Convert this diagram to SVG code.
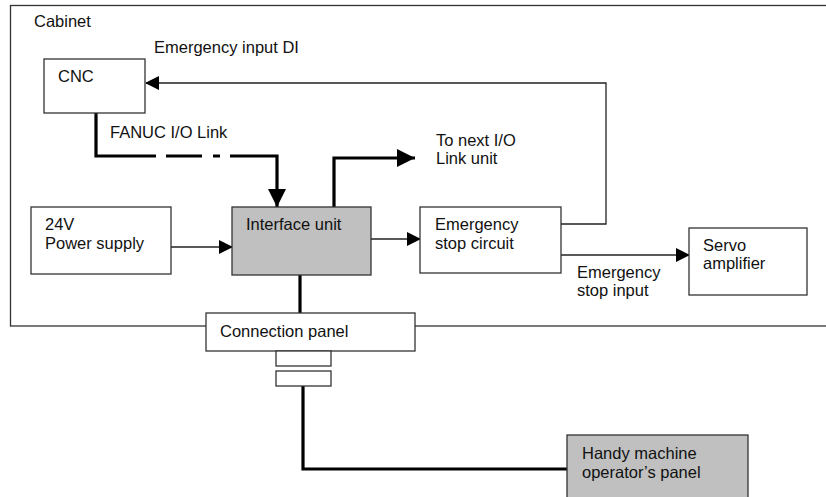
<svg xmlns="http://www.w3.org/2000/svg" width="826" height="497" viewBox="0 0 826 497">
<defs>
<style>
text{font-family:"Liberation Sans",Arial,sans-serif;font-size:16.5px;fill:#111}
.box{fill:#fff;stroke:#333;stroke-width:1.3}
.gray{fill:#c0c0c0;stroke:#333;stroke-width:1.3}
.thin{fill:none;stroke:#222;stroke-width:1.3}
.thick{fill:none;stroke:#000;stroke-width:3.2}
</style>
<marker id="ah" markerWidth="14" markerHeight="14" refX="13" refY="7" orient="auto" markerUnits="userSpaceOnUse">
<path d="M0,0 L14,7 L0,14 Z" fill="#000"/>
</marker>
<marker id="ahb" markerWidth="18" markerHeight="18" refX="18" refY="9" orient="auto" markerUnits="userSpaceOnUse">
<path d="M0,0 L18,9 L0,18 Z" fill="#000"/>
</marker>
</defs>
<g id="cabinet">
<rect x="10.5" y="5.5" width="830" height="320.5" class="box" fill="none" style="fill:none"/>
<text x="34" y="27">Cabinet</text>
</g>
<g id="connectors">
<path class="thin" d="M561,224 H606 V83 H146" marker-end="url(#ah)"/>
<path class="thin" d="M171,247 H232" marker-end="url(#ah)"/>
<path class="thin" d="M371,239 H420" marker-end="url(#ah)"/>
<path class="thin" d="M561,255 H689" marker-end="url(#ah)"/>
<path class="thick" d="M96,113 V156 H156"/>
<path class="thick" d="M166,156 H202 M213,156 H220"/>
<path class="thick" d="M230,156 H277 V207" marker-end="url(#ahb)"/>
<path class="thick" d="M334,207 V158 H415" marker-end="url(#ahb)"/>
<path class="thick" d="M300,275 V313"/>
<path class="thick" d="M303,386 V469 H568"/>
</g>
<g id="cnc">
<rect x="44" y="59" width="101" height="54" class="box"/>
<text x="58" y="82">CNC</text>
</g>
<text x="154" y="53">Emergency input DI</text>
<text x="110" y="138">FANUC I/O Link</text>
<text x="436" y="146">To next I/O</text>
<text x="436" y="164">Link unit</text>
<g id="power">
<rect x="31" y="207" width="140" height="67" class="box"/>
<text x="45" y="230">24V</text>
<text x="45" y="249">Power supply</text>
</g>
<g id="interface">
<rect x="232" y="207" width="139" height="68" class="gray"/>
<text x="246" y="230">Interface unit</text>
</g>
<g id="estop">
<rect x="420" y="207" width="141" height="66" class="box"/>
<text x="435" y="230">Emergency</text>
<text x="435" y="249">stop circuit</text>
</g>
<g id="servo">
<rect x="689" y="228" width="118" height="67" class="box"/>
<text x="703" y="251">Servo</text>
<text x="703" y="269">amplifier</text>
</g>
<text x="577" y="278">Emergency</text>
<text x="577" y="296">stop input</text>
<g id="connpanel">
<rect x="206" y="313" width="209" height="38" class="box"/>
<text x="220" y="337">Connection panel</text>
<rect x="276" y="351" width="55" height="15" class="box"/>
<rect x="276" y="371" width="55" height="15" class="box"/>
</g>
<g id="handy">
<rect x="567" y="435" width="181" height="70" class="gray"/>
<text x="582" y="459">Handy machine</text>
<text x="582" y="478">operator’s panel</text>
</g>
</svg>
